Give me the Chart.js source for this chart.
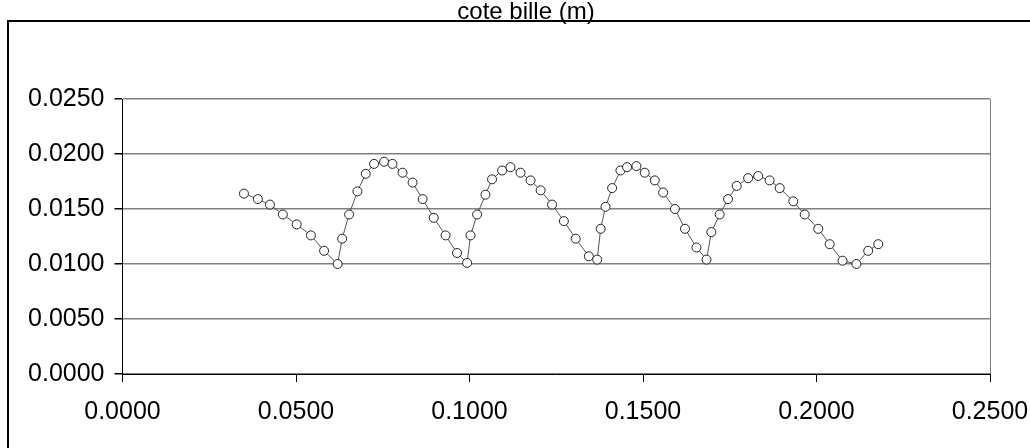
<!DOCTYPE html>
<html>
<head>
<meta charset="utf-8">
<title>cote bille (m)</title>
<script src="https://cdn.jsdelivr.net/npm/chart.js@4/dist/chart.umd.min.js"></script>
<style>
  html, body { margin: 0; padding: 0; background: #fff; }
  .chart-box { position: relative; width: 1030px; height: 448px; }
</style>
</head>
<body>
<div class="chart-box">
  <canvas id="coteChart"></canvas>
</div>
<script>
// position x (m) and height of the ball (m)
const posX = [
  0.0350, 0.0390, 0.0425, 0.0462, 0.0502, 0.0543, 0.0581, 0.0620,
  0.0633, 0.0653, 0.0677, 0.0701, 0.0725, 0.0754, 0.0778, 0.0807,
  0.0836, 0.0865, 0.0897, 0.0931, 0.0964, 0.0993, 0.1003, 0.1022,
  0.1046, 0.1065, 0.1094, 0.1118, 0.1147, 0.1176, 0.1205, 0.1238,
  0.1272, 0.1306, 0.1344, 0.1368, 0.1378, 0.1392, 0.1411, 0.1435,
  0.1454, 0.1481, 0.1505, 0.1534, 0.1558, 0.1592, 0.1621, 0.1654,
  0.1683, 0.1697, 0.1721, 0.1745, 0.1770, 0.1803, 0.1832, 0.1865,
  0.1894, 0.1933, 0.1966, 0.2005, 0.2038, 0.2075, 0.2115, 0.2149,
  0.2178
];
const coteBille = [
  0.0164, 0.0159, 0.0154, 0.0145, 0.0136, 0.0126, 0.0112, 0.0100,
  0.0123, 0.0145, 0.0166, 0.0182, 0.0191, 0.0193, 0.0191, 0.0183,
  0.0174, 0.0159, 0.0142, 0.0126, 0.0110, 0.0101, 0.0126, 0.0145,
  0.0163, 0.0177, 0.0185, 0.0188, 0.0183, 0.0176, 0.0167, 0.0154,
  0.0139, 0.0123, 0.0107, 0.0104, 0.0132, 0.0152, 0.0169, 0.0185,
  0.0188, 0.0189, 0.0183, 0.0176, 0.0165, 0.0150, 0.0132, 0.0115,
  0.0104, 0.0129, 0.0145, 0.0159, 0.0171, 0.0178, 0.0180, 0.0176,
  0.0169, 0.0157, 0.0145, 0.0132, 0.0118, 0.0103, 0.0100, 0.0112,
  0.0118
];
const chartTitle = 'cote bille (m)';
const xTicks = { min: 0, max: 0.25, step: 0.05 };
const yTicks = { min: 0, max: 0.025, step: 0.005 };

const points = posX.map((x, i) => ({ x: x, y: coteBille[i] }));

// outer frame of the chart object (only left and top edges are in view)
const framePlugin = {
  id: 'frame',
  beforeDraw(chart) {
    const ctx = chart.ctx;
    ctx.save();
    ctx.fillStyle = '#fff';
    ctx.fillRect(0, 0, chart.width, chart.height);
    ctx.strokeStyle = '#000';
    ctx.lineWidth = 2;
    ctx.beginPath();
    ctx.moveTo(8, chart.height);
    ctx.lineTo(8, 21);
    ctx.lineTo(chart.width, 21);
    ctx.stroke();
    ctx.restore();
  }
};

const font = { family: "'Liberation Sans', Arial, sans-serif", size: 25 };

new Chart(document.getElementById('coteChart'), {
  type: 'scatter',
  data: {
    datasets: [{
      label: chartTitle,
      data: points,
      showLine: true,
      borderColor: '#555',
      borderWidth: 1,
      pointRadius: 4.5,
      pointHoverRadius: 4.5,
      pointBackgroundColor: '#fff',
      pointBorderColor: '#222',
      pointBorderWidth: 1
    }]
  },
  options: {
    responsive: true,
    maintainAspectRatio: false,
    animation: false,
    layout: { padding: { left: 22, right: 0, top: 0, bottom: 0 } },
    plugins: {
      legend: { display: false },
      tooltip: { enabled: false },
      title: {
        display: true,
        text: chartTitle,
        color: '#000',
        font: { family: font.family, size: 24, weight: 'normal', lineHeight: 1 },
        padding: { top: 0, bottom: 75 }
      }
    },
    scales: {
      x: {
        type: 'linear',
        min: xTicks.min,
        max: xTicks.max,
        afterFit(scale) { scale.height = 74; scale.paddingRight = 40; },
        ticks: {
          stepSize: xTicks.step,
          color: '#000',
          font: font,
          padding: 15,
          maxRotation: 0,
          callback: v => v.toFixed(4)
        },
        grid: {
          drawOnChartArea: true,
          color: c => (c.index === 5 ? '#808080' : 'rgba(0,0,0,0)'),
          tickColor: '#000',
          tickLength: 8,
          lineWidth: 1
        },
        border: { color: '#000', width: 1 }
      },
      y: {
        type: 'linear',
        min: yTicks.min,
        max: yTicks.max,
        afterFit(scale) { scale.width = 100.5; },
        ticks: {
          stepSize: yTicks.step,
          color: '#000',
          font: font,
          padding: 10,
          callback: v => v.toFixed(4)
        },
        grid: {
          color: '#808080',
          tickColor: '#000',
          tickLength: 8,
          lineWidth: 1.5
        },
        border: { color: '#000', width: 1 }
      }
    }
  },
  plugins: [framePlugin]
});
</script>
</body>
</html>
